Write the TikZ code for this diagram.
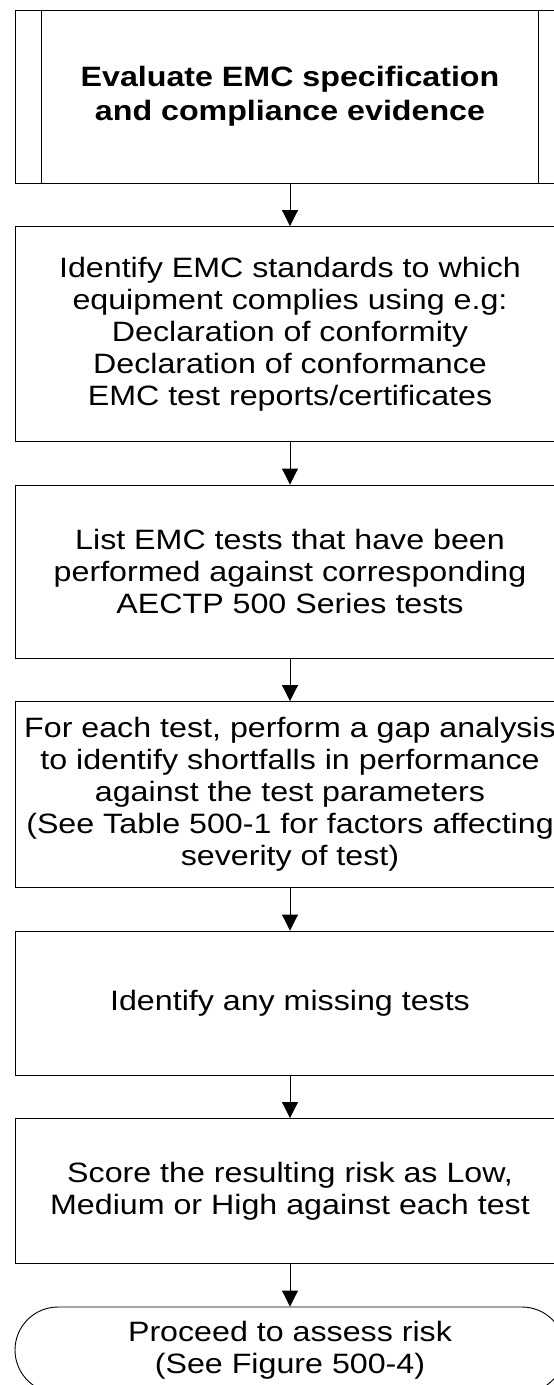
\documentclass[tikz,border=0pt]{standalone}
\usepackage{fontspec}
\setmainfont{Liberation Sans}[FakeStretch=1.15]
\usepackage{tikz}
\usetikzlibrary{positioning}
\usetikzlibrary{arrows.meta}

\begin{document}
\begin{tikzpicture}[
    x = 1pt, y = -1pt,
    node distance = 42.6pt,
    every node/.style = {draw, line width = 0.9pt, minimum width = 550pt, inner sep = 0pt,
                         align = center, font = \fontsize{28pt}{32pt}\selectfont},
      stepbox/.style = {rectangle, minimum height = #1},
      endbox/.style = {rectangle, rounded corners = 43pt, minimum height = 86pt},
      flow/.style = {line width = 0.9pt, -{Triangle[width = 16pt, length = 16pt]}}
    ]
    \useasboundingbox (0,0) rectangle (554,1385);
    \clip (0,0) rectangle (554,1385);
    \node[stepbox = 173pt, font = \fontsize{28pt}{34pt}\selectfont\bfseries] (evaluate) at (290,96.5)
        {Evaluate EMC specification\\and compliance evidence};
    \node[stepbox = 215pt, below = of evaluate] (standards)
        {Identify EMC standards to which\\equipment complies using e.g:\\Declaration of conformity\\Declaration of conformance\\EMC test reports/certificates};
    \node[stepbox = 173pt, below = of standards] (list)
        {List EMC tests that have been\\performed against corresponding\\AECTP 500 Series tests};
    \node[stepbox = 186pt, below = of list] (gap)
        {For each test, perform a gap analysis\\to identify shortfalls in performance\\against the test parameters\\(See Table 500-1 for factors affecting\\severity of test)};
    \node[stepbox = 144pt, below = of gap] (missing)
        {Identify any missing tests};
    \node[stepbox = 145pt, below = of missing] (score)
        {Score the resulting risk as Low,\\Medium or High against each test};
    \node[endbox, below = of score] (proceed)
        {Proceed to assess risk\\(See Figure 500-4)};
    % side bars of the process box
    \draw[line width = 0.9pt] ([xshift = 27pt]evaluate.north west) -- ([xshift = 27pt]evaluate.south west);
    \draw[line width = 0.9pt] ([xshift = -27pt]evaluate.north east) -- ([xshift = -27pt]evaluate.south east);
    \draw[flow] (evaluate) -- (standards);
    \draw[flow] (standards) -- (list);
    \draw[flow] (list) -- (gap);
    \draw[flow] (gap) -- (missing);
    \draw[flow] (missing) -- (score);
    \draw[flow] (score) -- (proceed);
\end{tikzpicture}
\end{document}
